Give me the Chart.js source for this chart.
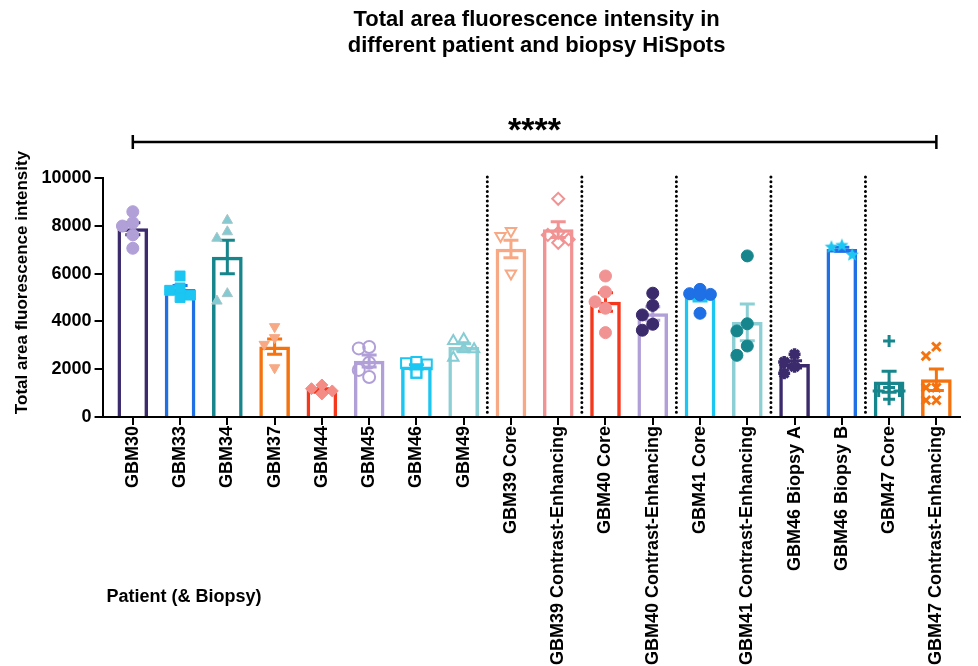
<!DOCTYPE html>
<html>
<head>
<meta charset="utf-8">
<title>HiSpot fluorescence</title>
<script src="https://cdn.jsdelivr.net/npm/chart.js@4.4.0/dist/chart.umd.min.js"></script>
<style>
  html, body { margin: 0; padding: 0; background: #fff; }
  canvas { display: block; }
</style>
</head>
<body>
<canvas id="chart" width="978" height="666"></canvas>
<script>
// --- data -------------------------------------------------------------
const categories = [
  'GBM30', 'GBM33', 'GBM34', 'GBM37', 'GBM44', 'GBM45', 'GBM46', 'GBM49',
  'GBM39 Core', 'GBM39 Contrast-Enhancing',
  'GBM40 Core', 'GBM40 Contrast-Enhancing',
  'GBM41 Core', 'GBM41 Contrast-Enhancing',
  'GBM46 Biopsy A', 'GBM46 Biopsy B',
  'GBM47 Core', 'GBM47 Contrast-Enhancing'
];

// bar height = mean, whiskers = SEM
const means = [7880, 5340, 6690, 2940, 1110, 2340, 2100, 2910,
  7030, 7840, 4810, 4330, 5020, 3960, 2200, 7020, 1470, 1560];
const sems = [250, 160, 700, 320, 70, 250, 90, 150,
  370, 330, 390, 280, 170, 770, 150, 80, 440, 450];

// individual HiSpot values per patient / biopsy
const replicates = [
  [8590, 8130, 7990, 7620, 7060],
  [5900, 5400, 5300, 5100, 5000],
  [8230, 7750, 7480, 5160, 4850],
  [3780, 3320, 3040, 2060],
  [1340, 1185, 1090, 975, 975],
  [2930, 2870, 2270, 1970, 1670],
  [2300, 2250, 2200, 1850, 1850],
  [3250, 3180, 2830, 2830, 2480],
  [7780, 7570, 6000],
  [9130, 7710, 7620, 7430, 7290],
  [5900, 5230, 4820, 4550, 3530],
  [5180, 4670, 4270, 3880, 3630],
  [5340, 5160, 5130, 5110, 4340],
  [6740, 3900, 3600, 2970, 2580],
  [2620, 2300, 2100, 1830],
  [7180, 7110, 6780],
  [3180, 1230, 1090, 1090, 740],
  [2940, 2550, 1230, 1230, 700, 700]
];

const yTicks = [0, 2000, 4000, 6000, 8000, 10000];
const significance = '****';

// --- styles -----------------------------------------------------------
const FONT = '"Liberation Sans", Arial, sans-serif';
const C = {
  darkPurple: '#3b2a6c',
  blue: '#1f6fe5',
  teal: '#17868c',
  orange: '#f5730f',
  red: '#f5371c',
  lavender: '#b19fd8',
  cyan: '#1cc6f2',
  lightTeal: '#8ccfd5',
  peach: '#f7a985',
  pink: '#f29393',
  salmon: '#f48c86'
};

const barColors = [
  C.darkPurple, C.blue, C.teal, C.orange, C.red, C.lavender, C.cyan, C.lightTeal,
  C.peach, C.pink, C.red, C.lavender, C.cyan, C.lightTeal,
  C.darkPurple, C.blue, C.teal, C.orange
];

// five pointed star for GBM46 Biopsy B
function starImage(color, r) {
  const c = document.createElement('canvas');
  c.width = c.height = r * 2 + 2;
  const g = c.getContext('2d');
  g.fillStyle = color;
  g.beginPath();
  for (let k = 0; k < 10; k++) {
    const rad = k % 2 ? r * 0.45 : r;
    const a = -Math.PI / 2 + k * Math.PI / 5;
    g.lineTo(r + 1 + rad * Math.cos(a), r + 1 + rad * Math.sin(a));
  }
  g.closePath();
  g.fill();
  return c;
}

const markers = [
  { shape: 'circle', color: C.lavender, fill: true },
  { shape: 'rect', color: C.cyan, fill: true, r: 7 },
  { shape: 'triangle', color: '#82cbd3', fill: true, edge: '#a9c4c7' },
  { shape: 'triangle', rot: 180, color: C.peach, fill: true },
  { shape: 'rectRot', color: C.salmon, fill: true },
  { shape: 'circle', color: C.lavender, fill: false },
  { shape: 'rect', color: C.cyan, fill: false, r: 7 },
  { shape: 'triangle', color: '#86ccd4', fill: false },
  { shape: 'triangle', rot: 180, color: C.peach, fill: false },
  { shape: 'rectRot', color: C.pink, fill: false },
  { shape: 'circle', color: C.pink, fill: true },
  { shape: 'circle', color: C.darkPurple, fill: true },
  { shape: 'circle', color: C.blue, fill: true },
  { shape: 'circle', color: C.teal, fill: true },
  { shape: 'star', color: C.darkPurple, fill: true, width: 3.5 },
  { shape: starImage(C.cyan, 7), color: C.cyan, fill: true },
  { shape: 'cross', color: C.teal, fill: false, width: 3 },
  { shape: 'crossRot', color: C.orange, fill: false, width: 3 }
];

// spread overlapping replicates sideways, like a scatter dot plot
function spread(values) {
  const range = yTicks[yTicks.length - 1] - yTicks[0];
  const minGap = 0.042 * range;
  const slots = [0, -0.22, 0.22, -0.11, 0.11];
  const placed = [];
  return values.map(v => {
    let dx = 0;
    for (const s of slots) {
      const hit = placed.some(p => {
        const a = (p.v - v) / minGap;
        const b = (p.dx - s) / 0.22;
        return a * a + b * b < 1;
      });
      if (!hit) { dx = s; break; }
    }
    placed.push({ v, dx });
    return { dx, v };
  });
}

const pointSets = replicates.map((vals, i) => {
  const m = markers[i];
  return {
    type: 'scatter',
    order: 1,
    data: spread(vals).map(p => ({ x: i + p.dx, y: p.v })),
    pointStyle: m.shape,
    rotation: m.rot || 0,
    radius: m.r || 6,
    borderWidth: m.width || (m.fill ? 1 : 2),
    borderColor: m.edge || m.color,
    backgroundColor: m.fill ? m.color : 'rgba(255,255,255,0)'
  };
});

// --- plugins ----------------------------------------------------------
const errorBars = {
  id: 'errorBars',
  afterDatasetDraw(chart, args) {
    if (args.index !== 0) return;
    const { ctx, scales: { x, y } } = chart;
    ctx.save();
    ctx.lineWidth = 3;
    means.forEach((m, i) => {
      const cx = x.getPixelForValue(i);
      const top = y.getPixelForValue(m + sems[i]);
      const bot = y.getPixelForValue(Math.max(0, m - sems[i]));
      ctx.strokeStyle = barColors[i];
      ctx.beginPath();
      ctx.moveTo(cx, top); ctx.lineTo(cx, bot);
      ctx.moveTo(cx - 7.5, top); ctx.lineTo(cx + 7.5, top);
      ctx.moveTo(cx - 7.5, bot); ctx.lineTo(cx + 7.5, bot);
      ctx.stroke();
    });
    ctx.restore();
  }
};

const decor = {
  id: 'decor',
  beforeDatasetsDraw(chart) {
    const { ctx, chartArea: a, scales: { x } } = chart;
    // dotted separators between multi-biopsy patients
    ctx.save();
    ctx.strokeStyle = '#000';
    ctx.lineWidth = 3;
    ctx.lineCap = 'round';
    ctx.setLineDash([0, 4.8]);
    categories.forEach((lab, i) => {
      if (i === 0 || !lab.includes(' ')) return;
      if (lab.split(' ')[0] === categories[i - 1].split(' ')[0]) return;
      const px = x.getPixelForValue(i - 0.5);
      ctx.beginPath();
      ctx.moveTo(px, a.top - 1);
      ctx.lineTo(px, a.bottom - 2);
      ctx.stroke();
    });
    ctx.restore();
  },
  afterDraw(chart) {
    const { ctx, chartArea: a, scales: { x } } = chart;
    const cx = x.getPixelForValue((categories.length - 1) / 2);
    ctx.save();
    ctx.fillStyle = '#000';
    ctx.textAlign = 'center';
    ctx.textBaseline = 'middle';
    ctx.font = 'bold 22px ' + FONT;
    ctx.fillText('Total area fluorescence intensity in', cx + 2, 20);
    ctx.fillText('different patient and biopsy HiSpots', cx + 2, 46);

    // significance bracket spanning all groups
    const x0 = x.getPixelForValue(0);
    const x1 = x.getPixelForValue(categories.length - 1);
    const by = a.top - 36;
    ctx.strokeStyle = '#000';
    ctx.lineWidth = 2.5;
    ctx.beginPath();
    ctx.moveTo(x0, by); ctx.lineTo(x1, by);
    ctx.moveTo(x0, by - 7); ctx.lineTo(x0, by + 7);
    ctx.moveTo(x1, by - 7); ctx.lineTo(x1, by + 7);
    ctx.stroke();
    ctx.font = 'bold 34px ' + FONT;
    ctx.textBaseline = 'alphabetic';
    const tm = ctx.measureText(significance);
    const glyphMid = (tm.actualBoundingBoxAscent - tm.actualBoundingBoxDescent) / 2;
    ctx.fillText(significance, cx, by - 18 + glyphMid);

    // axis titles
    ctx.textBaseline = 'middle';
    ctx.font = 'bold 17px ' + FONT;
    ctx.save();
    ctx.translate(22, (a.top + a.bottom) / 2 - 15);
    ctx.rotate(-Math.PI / 2);
    ctx.fillText('Total area fluorescence intensity', 0, 0);
    ctx.restore();

    ctx.textAlign = 'left';
    ctx.font = 'bold 18px ' + FONT;
    ctx.fillText('Patient (& Biopsy)', a.left + 4, 597);
    ctx.restore();
  }
};

// --- chart ------------------------------------------------------------
const bold = size => ({ family: FONT, size, weight: 'bold' });
const axisLines = {
  display: true,
  drawOnChartArea: false,
  drawTicks: true,
  tickLength: 8,
  color: '#000',
  lineWidth: 2,
  offset: false
};

new Chart(document.getElementById('chart'), {
  data: {
    datasets: [
      {
        type: 'bar',
        order: 2,
        data: means.map((m, i) => ({ x: i, y: m })),
        backgroundColor: '#fff',
        borderColor: barColors,
        borderWidth: 3.5,
        borderSkipped: 'start',
        grouped: false,
        barThickness: 30
      },
      ...pointSets
    ]
  },
  options: {
    responsive: false,
    animation: false,
    devicePixelRatio: 1,
    layout: { padding: { top: 150, right: 18, left: 38.5, bottom: 0 } },
    plugins: {
      legend: { display: false },
      tooltip: { enabled: false },
      // empty box that only reserves room above the plot for the bracket
      title: {
        display: true,
        text: '',
        padding: 0,
        font: { size: 28, lineHeight: 1 }
      }
    },
    scales: {
      x: {
        type: 'linear',
        offset: false,
        min: -0.64,
        max: categories.length - 0.5,
        afterBuildTicks: s => { s.ticks = categories.map((c, i) => ({ value: i })); },
        grid: axisLines,
        border: { display: true, color: '#000', width: 2 },
        ticks: {
          color: '#000',
          font: bold(18),
          autoSkip: false,
          minRotation: 90,
          maxRotation: 90,
          padding: 1,
          callback: v => categories[v]
        }
      },
      y: {
        min: yTicks[0],
        max: yTicks[yTicks.length - 1],
        afterBuildTicks: s => { s.ticks = yTicks.map(v => ({ value: v })); },
        grid: axisLines,
        border: { display: true, color: '#000', width: 2 },
        ticks: { color: '#000', font: bold(18), padding: 3, callback: v => String(v) }
      }
    }
  },
  plugins: [errorBars, decor]
});
</script>
</body>
</html>
